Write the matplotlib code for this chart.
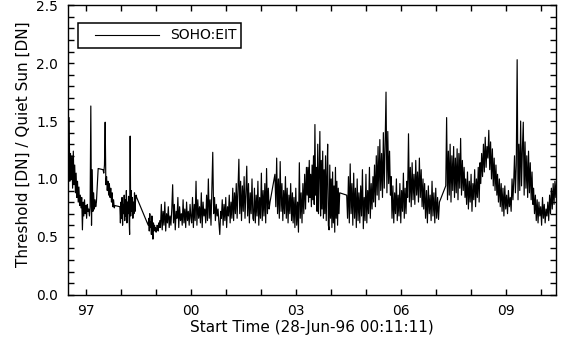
import matplotlib
matplotlib.use("Agg")
import matplotlib.pyplot as plt
import numpy as np
from matplotlib.patches import Rectangle
from matplotlib.lines import Line2D

# Threshold / quiet-sun ratio, SOHO:EIT.
# each piece: (start year, end year, values); samples are evenly spaced inside a piece
seg_a = (1996.48, 1997.30, [1.25, 1.02, 1.53, 0.98, 1.22, 1.00, 1.20, 0.92, 1.24, 0.95,
                            1.12, 0.88, 1.05, 0.84, 0.98, 0.80, 0.93, 0.77, 0.86, 0.75,
                            0.84, 0.56, 0.80, 0.68, 0.82, 0.70, 0.77, 0.66, 0.78, 0.72,
                            0.74, 0.68, 0.76, 1.63, 0.60, 1.08, 0.72, 0.88, 0.74, 0.82, 0.76, 0.80])
seg_b = (1997.35, 1997.49, [1.09, 1.08])
seg_c = (1997.51, 1997.83, [1.05, 1.12, 1.49, 0.95, 1.02, 0.90, 0.98, 0.86, 0.96, 0.84,
                            0.92, 0.80, 0.88, 0.76, 0.82, 0.75, 0.77])
seg_d = (1997.97, 1998.45, [0.76, 0.62, 0.80, 0.66, 0.84, 0.60, 0.78, 0.70, 0.86, 0.64,
                            0.82, 0.68, 0.90, 0.62, 0.80, 0.70, 0.85, 0.66, 0.52, 1.37,
                            0.68, 0.90, 0.72, 0.84, 0.66, 0.80, 0.70, 0.88, 0.72, 0.82, 0.86, 0.84])
seg_e = (1998.78, 1999.11, [0.60, 0.66, 0.55, 0.70, 0.58, 0.63, 0.52, 0.68, 0.56, 0.48,
                            0.62, 0.55, 0.60, 0.56, 0.58, 0.54, 0.56, 0.60, 0.58, 0.55,
                            0.62, 0.58, 0.64])
seg_f1 = (1999.13, 2000.00, [0.58, 0.78, 0.56, 0.72, 0.60, 0.80, 0.55, 0.70, 0.62, 0.76,
                             0.58, 0.68, 0.60, 0.74, 0.95, 0.62, 0.78, 0.56, 0.72, 0.66,
                             0.84, 0.58, 0.76, 0.64, 0.70, 0.60, 0.82, 0.62, 0.74, 0.58,
                             0.80, 0.64, 0.72, 0.60, 0.78, 0.66])
seg_f2 = (2000.02, 2000.85, [0.62, 0.84, 0.58, 0.78, 0.64, 0.98, 0.60, 0.82, 0.66, 0.76,
                             0.62, 0.88, 0.58, 0.80, 0.68, 0.74, 0.62, 0.86, 0.64, 1.00,
                             0.66, 0.82, 0.60, 0.90, 1.23, 0.70, 0.84, 0.64, 0.78, 0.68,
                             0.74, 0.62, 0.52, 0.72])
seg_f3 = (2000.87, 2001.77, [0.66, 0.82, 0.60, 0.78, 0.64, 0.84, 0.58, 0.76, 0.68, 0.86,
                             0.62, 0.80, 0.66, 0.92, 0.64, 0.88, 0.70, 0.96, 0.66, 0.90,
                             1.17, 0.70, 0.98, 0.64, 0.94, 0.72, 1.02, 0.66, 0.90, 1.11,
                             0.68, 0.96, 0.62, 0.88, 0.70, 1.00, 0.66])
seg_f4 = (2001.79, 2002.26, [0.64, 0.92, 0.62, 0.86, 0.68, 0.98, 0.60, 0.84, 0.66, 1.05,
                             0.64, 0.90, 0.68, 0.96, 0.62, 1.09, 0.70, 0.92, 0.74, 0.80])
seg_g1 = (2002.40, 2002.90, [1.04, 0.76, 1.18, 0.70, 1.00, 0.66, 1.15, 0.72, 0.96, 0.64,
                             0.90, 0.70, 1.02, 0.66, 0.92, 0.62, 0.86, 0.70, 0.96, 0.64, 0.88])
seg_g2 = (2002.92, 2003.30, [0.62, 0.84, 0.58, 0.92, 0.60, 0.80, 0.54, 1.14, 0.66, 0.88,
                             0.62, 0.96, 0.70, 1.04, 0.74, 1.10])
seg_g3 = (2003.32, 2004.25, [0.86, 1.10, 0.80, 1.16, 0.84, 1.04, 0.76, 1.12, 0.82, 1.20,
                             0.78, 1.47, 0.86, 1.10, 0.72, 1.30, 0.70, 1.05, 1.41, 0.68,
                             1.16, 0.74, 1.24, 0.66, 1.08, 0.70, 1.20, 0.64, 1.02, 1.30,
                             0.60, 0.56, 1.12, 0.66, 1.00, 0.58, 1.06, 0.62, 0.94, 0.54,
                             1.10, 0.66, 0.98, 0.60, 0.92, 0.70, 0.88])
seg_h = (2004.45, 2005.20, [0.86, 0.66, 1.02, 0.62, 1.13, 0.70, 0.96, 0.60, 1.05, 0.66,
                            0.92, 0.58, 1.00, 0.64, 0.88, 0.62, 0.94, 0.68, 1.08, 0.57,
                            0.84, 0.64, 1.04, 0.62, 0.90, 0.70, 1.10, 0.66, 0.96, 0.74, 1.02])
seg_i = (2005.22, 2005.70, [0.80, 1.12, 0.76, 1.20, 0.86, 1.28, 0.82, 1.34, 0.90, 1.22,
                            0.84, 1.40, 0.92, 1.30, 1.75, 0.88, 1.41, 0.96, 1.24, 0.86])
seg_j = (2005.72, 2006.17, [1.02, 0.66, 0.94, 0.62, 0.88, 0.70, 1.00, 0.64, 0.86, 0.68,
                            0.96, 0.62, 0.90, 0.72, 1.05, 0.66, 0.92, 0.70, 0.98])
seg_k = (2006.19, 2006.63, [0.84, 1.39, 0.80, 1.10, 0.76, 1.14, 0.82, 1.04, 0.78, 1.16,
                            0.86, 1.06, 0.80, 1.18, 0.84, 1.08, 0.76, 1.00])
seg_l = (2006.65, 2007.10, [0.74, 0.96, 0.66, 0.90, 0.62, 0.94, 0.70, 0.86, 0.64, 0.98,
                            0.68, 0.88, 0.62, 0.92, 0.66, 0.84, 0.65, 0.80])
seg_m = (2007.28, 2007.83, [0.94, 1.53, 0.82, 1.24, 0.86, 1.30, 0.80, 1.20, 0.90, 1.28,
                            0.84, 1.18, 0.88, 1.26, 0.82, 1.22, 0.92, 1.35, 0.86, 1.16,
                            0.90, 1.10, 0.84])
seg_n = (2007.85, 2008.26, [1.00, 0.78, 1.06, 0.74, 0.98, 0.80, 1.04, 0.72, 0.96, 0.82,
                            1.08, 0.76, 1.00, 0.84, 1.10, 0.80, 1.14])
seg_o = (2008.28, 2008.74, [0.96, 1.22, 1.02, 1.30, 1.06, 1.36, 1.10, 1.28, 1.18, 1.42,
                            1.08, 1.32, 1.00, 1.26, 0.94, 1.18, 0.90, 1.12, 0.86])
seg_p = (2008.76, 2009.20, [1.04, 0.80, 1.00, 0.76, 0.96, 0.72, 0.92, 0.68, 0.94, 0.74,
                            0.86, 0.70, 0.90, 0.76, 0.84, 0.72, 1.00, 0.82])
seg_q = (2009.22, 2009.77, [0.96, 1.20, 0.88, 1.12, 2.03, 0.82, 1.30, 0.90, 1.50, 0.94,
                            1.26, 1.49, 0.86, 1.32, 0.92, 1.20, 0.84, 1.24, 0.88, 1.14,
                            0.82, 1.06, 0.78])
seg_r = (2009.79, 2010.45, [0.92, 0.70, 0.86, 0.64, 0.82, 0.62, 0.80, 0.68, 0.76, 0.60,
                            0.84, 0.66, 0.78, 0.62, 0.74, 0.68, 0.80, 0.64, 0.86, 0.70,
                            0.92, 0.74, 0.96, 0.78, 0.98, 0.84, 1.00])

segments = [seg_a, seg_b, seg_c, seg_d, seg_e, seg_f1, seg_f2, seg_f3, seg_f4,
            seg_g1, seg_g2, seg_g3, seg_h, seg_i, seg_j, seg_k, seg_l, seg_m,
            seg_n, seg_o, seg_p, seg_q, seg_r]

year_ticks = [1997, 2000, 2003, 2006, 2009]
year_labels = ['97', '00', '03', '06', '09']

t = np.concatenate([np.linspace(s, e, len(v)) for s, e, v in segments])
ratio = np.concatenate([np.array(v) for s, e, v in segments])

plt.rcParams['font.family'] = 'DejaVu Sans'
fig = plt.figure(figsize=(5.61, 3.41), dpi=100)
ax = fig.add_axes([0.1207, 0.1358, 0.8704, 0.8487])

ax.plot(t, ratio, color='k', lw=0.85)

ax.set_xlim(1996.48, 2010.43)
ax.set_ylim(0, 2.5)
ax.set_xticks(year_ticks)
ax.set_xticklabels(year_labels)
ax.set_xticks(np.arange(1997, 2011), minor=True)
ax.set_yticks(np.arange(0, 2.51, 0.5))
ax.set_yticklabels(['%.1f' % v for v in np.arange(0, 2.51, 0.5)])
ax.set_yticks(np.arange(0, 2.51, 0.1), minor=True)
ax.tick_params(which='both', direction='in', top=True, right=True,
               length=4, width=1, labelsize=10, pad=7)
for sp in ax.spines.values():
    sp.set_linewidth(1)

ax.set_xlabel('Start Time (28-Jun-96 00:11:11)', fontsize=11, labelpad=1)
ax.set_ylabel('Threshold [DN] / Quiet Sun [DN]', fontsize=11)
ax.yaxis.set_label_coords(-0.076, 0.521)

# legend box as IDL draws it
ax.add_patch(Rectangle((0.0211, 0.852), 0.334, 0.088, transform=ax.transAxes,
                       fill=False, ec='k', lw=1.1))
ax.add_line(Line2D([0.0559, 0.1874], [0.896, 0.896], transform=ax.transAxes,
                   color='k', lw=0.8))
ax.text(0.2095, 0.896, 'SOHO:EIT', transform=ax.transAxes, va='center',
        ha='left', fontsize=10)

fig.savefig('out.png', dpi=100)
